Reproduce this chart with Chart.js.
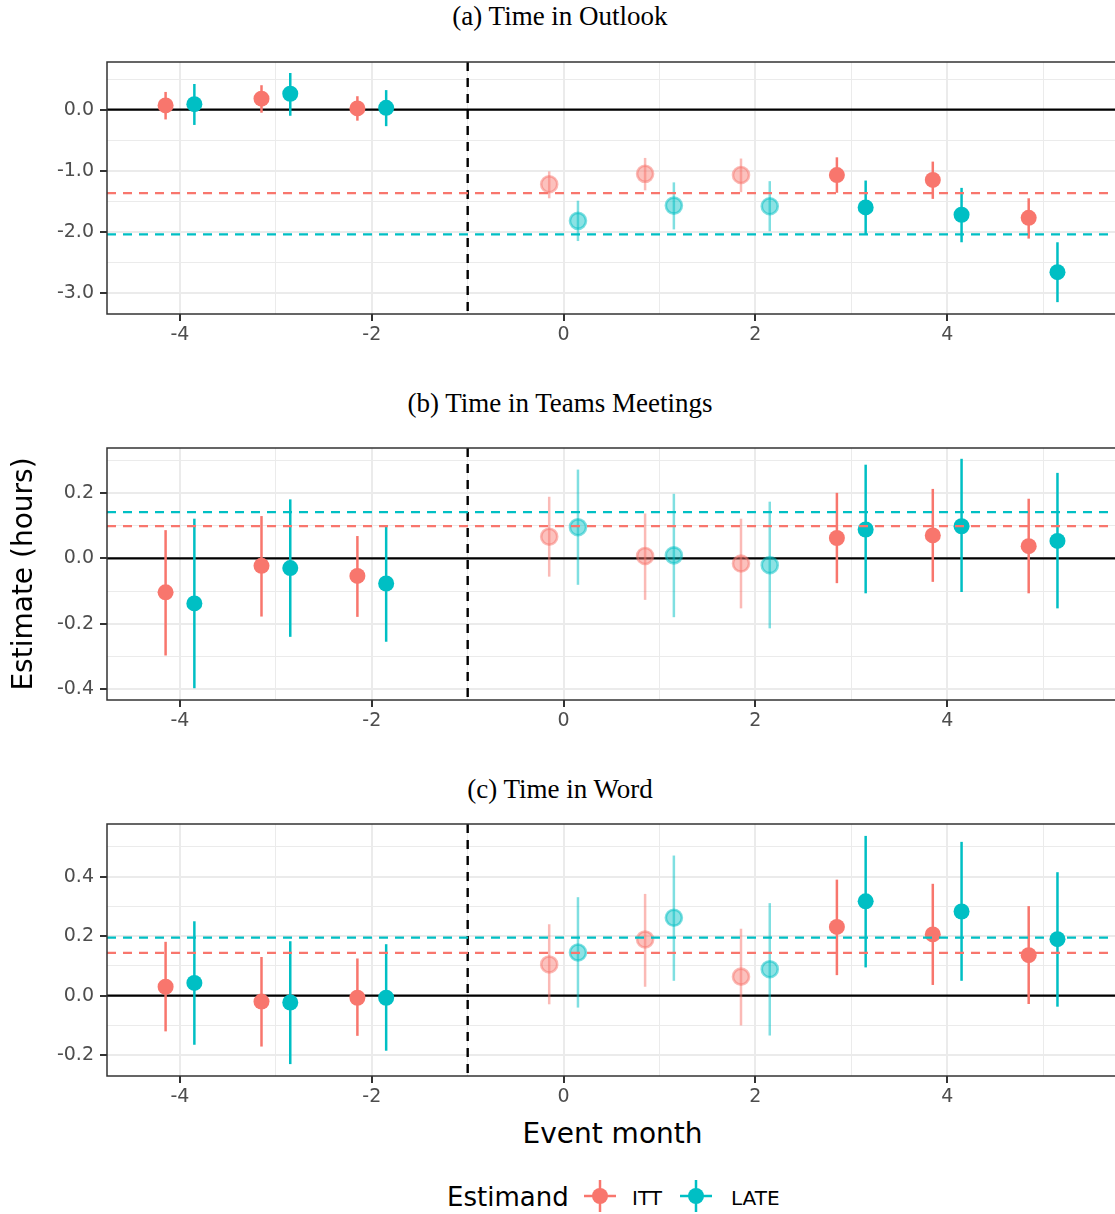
<!DOCTYPE html>
<html>
<head>
<meta charset="utf-8">
<script src="https://cdn.jsdelivr.net/npm/chart.js@4.4.1/dist/chart.umd.min.js"></script>
<style>
  html, body { margin: 0; padding: 0; background: #fff; width: 1115px; height: 1214px; overflow: hidden; }
  .panel { position: absolute; left: 0; }
  .ptitle { position: absolute; left: 0; width: 1120px; text-align: center; font-family: "Liberation Serif", serif; font-size: 27px; line-height: 27px; color: #000; white-space: nowrap; }
  .axtitle { position: absolute; font-family: "DejaVu Sans", sans-serif; color: #000; white-space: nowrap; text-align: center; }
  .leg { position: absolute; font-family: "DejaVu Sans", sans-serif; color: #000; white-space: nowrap; }
</style>
</head>
<body>
<div class="ptitle" style="top:3px">(a) Time in Outlook</div>
<div class="ptitle" style="top:390px">(b) Time in Teams Meetings</div>
<div class="ptitle" style="top:776px">(c) Time in Word</div>

<canvas id="panelA" class="panel" width="1145" height="312" style="top:42px"></canvas>
<canvas id="panelB" class="panel" width="1145" height="312" style="top:428px"></canvas>
<canvas id="panelC" class="panel" width="1145" height="312" style="top:804px"></canvas>

<div class="axtitle" style="left:-177px; top:560px; width:400px; font-size:28px; line-height:28px; transform:rotate(-90deg);">Estimate (hours)</div>
<div class="axtitle" style="left:0; top:1119.5px; width:1225px; font-size:28px; line-height:28px;">Event month</div>

<div class="leg" style="left:447px; top:1184px; font-size:26px; line-height:26px;">Estimand</div>
<svg style="position:absolute; left:582px; top:1178px" width="36" height="36">
  <line x1="2" y1="18" x2="34" y2="18" stroke="#F8766D" stroke-width="2.5"/>
  <line x1="18" y1="2" x2="18" y2="34" stroke="#F8766D" stroke-width="2.5"/>
  <circle cx="18" cy="18" r="8" fill="#F8766D"/>
</svg>
<div class="leg" style="left:632px; top:1187.5px; font-size:20px; line-height:20px;">ITT</div>
<svg style="position:absolute; left:678px; top:1178px" width="36" height="36">
  <line x1="2" y1="18" x2="34" y2="18" stroke="#00BFC4" stroke-width="2.5"/>
  <line x1="18" y1="2" x2="18" y2="34" stroke="#00BFC4" stroke-width="2.5"/>
  <circle cx="18" cy="18" r="8" fill="#00BFC4"/>
</svg>
<div class="leg" style="left:731px; top:1187.5px; font-size:20px; line-height:20px;">LATE</div>

<script>
// event months and which ones are drawn faded
const months = [-4, -3, -2, 0, 1, 2, 3, 4, 5];
const fadedMonths = [0, 1, 2];
const eventLine = -1;

// (a) Outlook
const ittA    = [0.07, 0.18, 0.02, -1.22, -1.05, -1.07, -1.07, -1.15, -1.77];
const ittALo  = [-0.16, -0.05, -0.18, -1.45, -1.32, -1.35, -1.36, -1.46, -2.11];
const ittAHi  = [0.29, 0.40, 0.22, -1.01, -0.79, -0.80, -0.78, -0.85, -1.45];
const lateA   = [0.09, 0.26, 0.03, -1.82, -1.57, -1.58, -1.60, -1.72, -2.66];
const lateALo = [-0.25, -0.10, -0.27, -2.15, -1.96, -1.99, -2.04, -2.17, -3.15];
const lateAHi = [0.42, 0.60, 0.32, -1.49, -1.19, -1.17, -1.16, -1.28, -2.17];
const meanA   = [-1.365, -2.04]; // ITT, LATE

// (b) Teams meetings
const ittB    = [-0.104, -0.023, -0.054, 0.066, 0.007, -0.016, 0.062, 0.070, 0.037];
const ittBLo  = [-0.297, -0.178, -0.179, -0.056, -0.127, -0.153, -0.076, -0.072, -0.107];
const ittBHi  = [0.086, 0.129, 0.068, 0.188, 0.137, 0.121, 0.200, 0.212, 0.182];
const lateB   = [-0.138, -0.030, -0.077, 0.095, 0.009, -0.021, 0.088, 0.098, 0.053];
const lateBLo = [-0.397, -0.240, -0.255, -0.081, -0.180, -0.214, -0.107, -0.103, -0.153];
const lateBHi = [0.121, 0.180, 0.096, 0.271, 0.197, 0.173, 0.286, 0.304, 0.261];
const meanB   = [0.098, 0.141];

// (c) Word
const ittC    = [0.030, -0.020, -0.007, 0.105, 0.189, 0.064, 0.231, 0.206, 0.136];
const ittCLo  = [-0.120, -0.171, -0.135, -0.029, 0.030, -0.100, 0.069, 0.036, -0.028];
const ittCHi  = [0.181, 0.130, 0.125, 0.240, 0.342, 0.225, 0.390, 0.376, 0.301];
const lateC   = [0.043, -0.023, -0.007, 0.145, 0.262, 0.089, 0.317, 0.283, 0.190];
const lateCLo = [-0.165, -0.230, -0.185, -0.040, 0.050, -0.134, 0.095, 0.050, -0.037];
const lateCHi = [0.250, 0.183, 0.173, 0.331, 0.471, 0.311, 0.537, 0.517, 0.415];
const meanC   = [0.144, 0.195];

const ittRgb = [248, 118, 109];
const lateRgb = [0, 191, 196];
const dodge = 0.15;
const fadeAlpha = 0.5;

function rgba(c, a) { return `rgba(${c[0]},${c[1]},${c[2]},${a})`; }
function isFaded(m) { return fadedMonths.includes(m); }

// zero line, event line, error bars, mean lines, frame
const panelDecor = {
  id: 'panelDecor',
  beforeDatasetsDraw(chart) {
    const { ctx, chartArea: a, scales: { x, y } } = chart;
    ctx.save();
    ctx.beginPath();
    ctx.rect(a.left, a.top, a.width, a.height);
    ctx.clip();

    const y0 = y.getPixelForValue(0);
    ctx.strokeStyle = '#000';
    ctx.lineWidth = 2.2;
    ctx.beginPath(); ctx.moveTo(a.left, y0); ctx.lineTo(a.right, y0); ctx.stroke();

    const xv = x.getPixelForValue(eventLine);
    ctx.setLineDash([9, 7]);
    ctx.lineWidth = 2.4;
    ctx.beginPath(); ctx.moveTo(xv, a.top); ctx.lineTo(xv, a.bottom); ctx.stroke();
    ctx.setLineDash([]);

    ctx.lineWidth = 2.5;
    chart.data.datasets.forEach(ds => {
      months.forEach((m, i) => {
        const px = x.getPixelForValue(m + ds.offset);
        ctx.strokeStyle = rgba(ds.rgb, isFaded(m) ? fadeAlpha : 1);
        ctx.beginPath();
        ctx.moveTo(px, y.getPixelForValue(ds.lo[i]));
        ctx.lineTo(px, y.getPixelForValue(ds.hi[i]));
        ctx.stroke();
      });
    });
    ctx.restore();
  },
  afterDatasetsDraw(chart) {
    const { ctx, chartArea: a, scales: { y } } = chart;
    ctx.save();
    ctx.beginPath();
    ctx.rect(a.left, a.top, a.width, a.height);
    ctx.clip();
    ctx.lineWidth = 2.2;
    ctx.setLineDash([9, 7]);
    chart.data.datasets.forEach(ds => {
      const py = y.getPixelForValue(ds.mean);
      ctx.strokeStyle = rgba(ds.rgb, 1);
      ctx.beginPath(); ctx.moveTo(a.left, py); ctx.lineTo(a.right, py); ctx.stroke();
    });
    ctx.restore();

    ctx.save();
    ctx.strokeStyle = '#333333';
    ctx.lineWidth = 1.5;
    ctx.strokeRect(a.left, a.top, a.width, a.height);
    ctx.restore();
  }
};

function makePanel(id, series, yMin, yMax, yStep, isMajorY) {
  const datasets = series.map(s => ({
    type: 'scatter',
    label: s.label,
    data: months.map((m, i) => ({ x: m + s.offset, y: s.est[i] })),
    pointRadius: 8,
    pointHoverRadius: 8,
    pointBackgroundColor: months.map(m => rgba(s.rgb, isFaded(m) ? 0.45 : 1)),
    pointBorderColor: months.map(m => rgba(s.rgb, isFaded(m) ? 0.5 : 1)),
    pointBorderWidth: months.map(m => isFaded(m) ? 2.6 : 0),
    offset: s.offset, lo: s.lo, hi: s.hi, mean: s.mean, rgb: s.rgb
  }));

  const tickFont = { family: 'DejaVu Sans', size: 19 };
  const isMajorX = v => Math.round(v) % 2 === 0;

  return new Chart(document.getElementById(id).getContext('2d'), {
    type: 'scatter',
    data: { datasets },
    options: {
      responsive: false,
      animation: false,
      events: [],
      layout: { padding: { top: 20, left: 0, right: 20, bottom: 0 } },
      plugins: { legend: { display: false }, tooltip: { enabled: false } },
      scales: {
        x: {
          type: 'linear',
          min: -4.761,
          max: -4.761 + 1018 / 95.9,
          afterFit: s => { s.height = 40; },
          border: { display: false },
          grid: {
            color: '#EBEBEB',
            lineWidth: c => isMajorX(c.tick.value) ? 2 : 1,
            tickColor: c => isMajorX(c.tick.value) ? '#333333' : 'rgba(0,0,0,0)',
            tickLength: 7,
            tickWidth: 2
          },
          ticks: {
            stepSize: 1,
            includeBounds: false,
            autoSkip: false,
            maxRotation: 0,
            padding: 3,
            color: '#4D4D4D',
            font: tickFont,
            callback: v => isMajorX(v) ? String(Math.round(v)) : ''
          }
        },
        y: {
          min: yMin,
          max: yMax,
          afterFit: s => { s.width = 107; },
          border: { display: false },
          grid: {
            color: '#EBEBEB',
            lineWidth: c => isMajorY(c.tick.value) ? 2 : 1,
            tickColor: c => isMajorY(c.tick.value) ? '#333333' : 'rgba(0,0,0,0)',
            tickLength: 7,
            tickWidth: 2
          },
          ticks: {
            stepSize: yStep,
            includeBounds: false,
            autoSkip: false,
            padding: 6,
            color: '#4D4D4D',
            font: tickFont,
            callback: v => isMajorY(v) ? (Math.round(v * 10) / 10).toFixed(1) : ''
          }
        }
      }
    },
    plugins: [panelDecor]
  });
}

function seriesFor(itt, ittLo, ittHi, late, lateLo, lateHi, means) {
  return [
    { label: 'ITT', rgb: ittRgb, offset: -dodge, est: itt, lo: ittLo, hi: ittHi, mean: means[0] },
    { label: 'LATE', rgb: lateRgb, offset: dodge, est: late, lo: lateLo, hi: lateHi, mean: means[1] }
  ];
}

const wholeMajor = v => Math.abs(v - Math.round(v)) < 1e-6;
const evenTenthMajor = v => Math.round(v * 10) % 2 === 0;

makePanel('panelA', seriesFor(ittA, ittALo, ittAHi, lateA, lateALo, lateAHi, meanA), -3.344, 0.780, 0.5, wholeMajor);
makePanel('panelB', seriesFor(ittB, ittBLo, ittBHi, lateB, lateBLo, lateBHi, meanB), -0.433, 0.337, 0.1, evenTenthMajor);
makePanel('panelC', seriesFor(ittC, ittCLo, ittCHi, lateC, lateCLo, lateCHi, meanC), -0.270, 0.577, 0.1, evenTenthMajor);
</script>
</body>
</html>
